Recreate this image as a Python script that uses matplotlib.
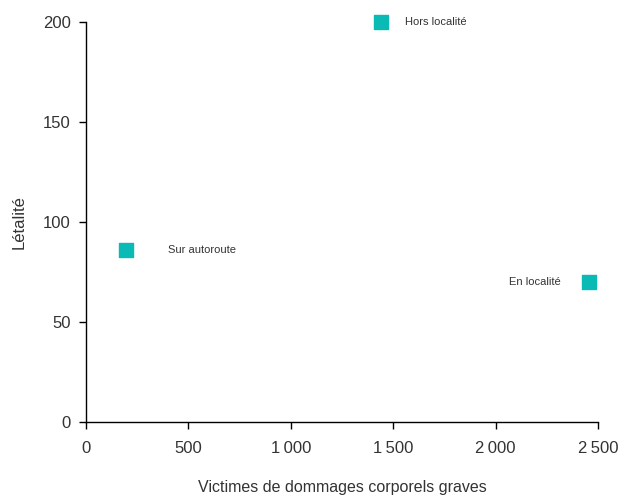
import matplotlib
matplotlib.use("Agg")
import matplotlib.pyplot as plt
from matplotlib import font_manager

names = ["Sur autoroute", "Hors localité", "En localité"]
victimes = [195, 1440, 2455]
letalite = [86, 200, 70]

fams = [f.name for f in font_manager.fontManager.ttflist]
if "Liberation Sans Narrow" in fams:
    plt.rcParams['font.family'] = ['Liberation Sans Narrow', 'DejaVu Sans']
else:
    plt.rcParams['font.family'] = ['Liberation Sans', 'DejaVu Sans']

txt = '#333333'
fig = plt.figure(figsize=(6.19, 4.95), dpi=100)
ax = fig.add_axes([86/619, 73/495, 512/619, 400/495])

ax.scatter(victimes, letalite, marker='s', s=115, color='#0ABAB5', zorder=3, clip_on=False)

# label offsets in points, right or left of the marker
offs = {"Sur autoroute": (30, 'left'), "Hors localité": (17, 'left'), "En localité": (-20, 'right')}
for n, x, y in zip(names, victimes, letalite):
    dx, ha = offs[n]
    ax.annotate(n, xy=(x, y), xytext=(dx, 0), textcoords='offset points',
                ha=ha, va='center', fontsize=8, color=txt)

ax.set_xlim(0, 2500)
ax.set_ylim(0, 200)
ax.set_xticks([0, 500, 1000, 1500, 2000, 2500])
ax.set_xticklabels(['0', '500', '1\u2009000', '1\u2009500', '2\u2009000', '2\u2009500'])
ax.set_yticks([0, 50, 100, 150, 200])
for s in ['top', 'right']:
    ax.spines[s].set_visible(False)
for s in ['left', 'bottom']:
    ax.spines[s].set_color('black')
    ax.spines[s].set_linewidth(1)
ax.tick_params(axis='both', direction='out', length=5, width=1, color='black',
               labelsize=12, labelcolor=txt)
ax.tick_params(axis='x', pad=9)
ax.tick_params(axis='y', pad=6)
ax.set_xlabel('Victimes de dommages corporels graves', fontsize=11.5, color=txt, labelpad=17)
ax.set_ylabel('Létalité', fontsize=12, color=txt, labelpad=12)

fig.savefig('out.png', dpi=100)
